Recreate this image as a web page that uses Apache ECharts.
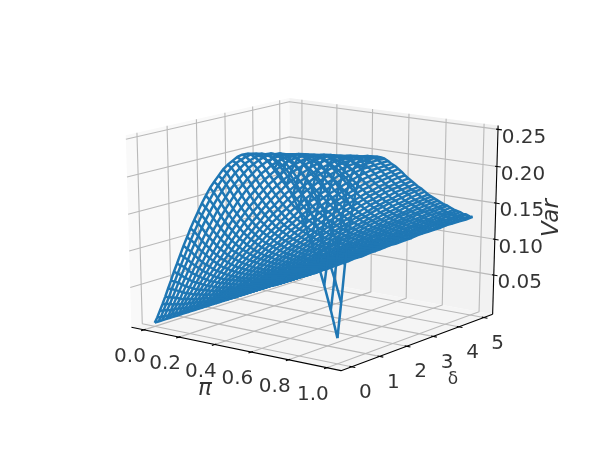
<!DOCTYPE html><html><head><meta charset="utf-8"><style>html,body{margin:0;background:#fff}#c{width:600px;height:459px}</style>
<script src="https://cdn.jsdelivr.net/npm/echarts@6/dist/echarts.min.js"></script></head><body><div id="c"></div><script>
const piValues=[0,.0153,.031,.0473,.064,.0813,.099,.1173,.136,.1553,.175,.1953,.216,.2373,.259,.2813,.304,.3273,.351,.3753,.4,.4253,.451,.4773,.504,.5313,.559,.5873,.616,.6453,.675,.7053,.736,.7673,.799,.8313,.864,.8973,.931,.9653,1];
const deltaValues=[0,.125,.25,.375,.5,.625,.75,.875,1,1.125,1.25,1.375,1.5,1.625,1.75,1.875,2,2.125,2.25,2.375,2.5,2.625,2.75,2.875,3,3.125,3.25,3.375,3.5,3.625,3.75,3.875,4,4.125,4.25,4.375,4.5,4.625,4.75,4.875,5];
const varGrid=[
[0,.008,.018,.028,.039,.051,.063,.076,.088,.101,.114,.126,.139,.151,.163,.175,.186,.197,.206,.215,.224,.231,.237,.243,.247,.249,.25,.249,.247,.243,.236,.228,.217,.204,.188,.169,.148,.123,.095,.064,.029],
[0,.007,.017,.027,.037,.049,.06,.072,.084,.096,.108,.121,.133,.145,.157,.168,.179,.19,.2,.209,.218,.226,.233,.238,.243,.247,.249,.25,.249,.247,.243,.237,.229,.218,.206,.191,.173,.153,.13,.104,.074],
[0,.007,.016,.025,.035,.046,.057,.068,.08,.091,.103,.115,.126,.138,.149,.16,.171,.181,.191,.201,.209,.218,.225,.232,.237,.242,.246,.248,.25,.25,.248,.245,.24,.233,.224,.213,.199,.183,.165,.145,.122],
[0,.006,.014,.023,.033,.043,.053,.063,.074,.085,.096,.107,.118,.129,.14,.151,.162,.172,.182,.192,.201,.209,.217,.225,.231,.237,.242,.246,.248,.25,.25,.249,.246,.242,.236,.229,.22,.208,.195,.179,.161],
[0,.006,.014,.022,.03,.04,.049,.059,.069,.08,.09,.101,.111,.122,.132,.143,.153,.163,.173,.183,.192,.2,.209,.216,.224,.23,.236,.24,.244,.247,.249,.25,.25,.248,.245,.24,.234,.226,.216,.205,.191],
[0,.006,.013,.02,.028,.037,.046,.055,.065,.075,.084,.095,.105,.115,.125,.135,.145,.155,.164,.174,.183,.192,.2,.208,.216,.222,.229,.234,.239,.243,.246,.249,.25,.25,.249,.247,.243,.238,.231,.223,.214],
[0,.005,.012,.019,.027,.035,.043,.052,.061,.07,.079,.089,.098,.108,.118,.127,.137,.147,.156,.165,.174,.183,.191,.199,.207,.214,.221,.227,.233,.238,.242,.245,.248,.249,.25,.25,.248,.245,.241,.236,.229],
[0,.005,.011,.018,.025,.032,.04,.049,.057,.066,.075,.084,.093,.102,.111,.12,.13,.139,.148,.157,.166,.174,.183,.191,.199,.206,.213,.22,.226,.231,.236,.241,.244,.247,.249,.25,.25,.249,.247,.244,.24],
[0,.005,.01,.017,.023,.031,.038,.046,.054,.062,.07,.079,.087,.096,.105,.114,.123,.132,.141,.149,.158,.166,.175,.183,.191,.198,.205,.212,.219,.225,.23,.235,.239,.243,.246,.248,.249,.25,.25,.248,.246],
[0,.004,.01,.016,.022,.029,.036,.043,.05,.058,.066,.074,.083,.091,.099,.108,.116,.125,.133,.142,.15,.159,.167,.175,.183,.19,.198,.205,.211,.217,.223,.229,.234,.238,.242,.245,.247,.249,.25,.25,.249],
[0,.004,.009,.015,.021,.027,.034,.041,.048,.055,.063,.07,.078,.086,.094,.102,.111,.119,.127,.135,.143,.152,.16,.167,.175,.183,.19,.197,.204,.21,.216,.222,.227,.232,.237,.24,.244,.246,.248,.25,.25],
[0,.004,.009,.014,.02,.026,.032,.038,.045,.052,.059,.067,.074,.082,.09,.097,.105,.113,.121,.129,.137,.145,.153,.16,.168,.176,.183,.19,.197,.203,.21,.216,.221,.226,.231,.236,.239,.243,.246,.248,.249],
[0,.004,.008,.013,.018,.024,.03,.036,.043,.049,.056,.063,.07,.078,.085,.093,.1,.108,.115,.123,.131,.139,.146,.154,.161,.169,.176,.183,.19,.196,.203,.209,.215,.22,.225,.23,.234,.238,.242,.245,.247],
[0,.003,.008,.012,.017,.023,.029,.034,.041,.047,.053,.06,.067,.074,.081,.088,.095,.103,.11,.118,.125,.132,.14,.147,.155,.162,.169,.176,.183,.189,.196,.202,.208,.214,.219,.224,.229,.233,.237,.241,.244],
[0,.003,.007,.012,.017,.022,.027,.033,.039,.045,.051,.057,.064,.071,.077,.084,.091,.098,.105,.113,.12,.127,.134,.141,.148,.156,.163,.17,.176,.183,.189,.196,.202,.208,.213,.219,.224,.228,.232,.236,.24],
[0,.003,.007,.011,.016,.021,.026,.031,.037,.043,.048,.055,.061,.067,.074,.08,.087,.094,.101,.108,.115,.122,.129,.136,.143,.15,.156,.163,.17,.177,.183,.189,.195,.201,.207,.213,.218,.223,.227,.231,.235],
[0,.003,.007,.011,.015,.02,.025,.03,.035,.041,.046,.052,.058,.064,.071,.077,.083,.09,.097,.103,.11,.117,.124,.13,.137,.144,.151,.157,.164,.171,.177,.183,.189,.195,.201,.207,.212,.217,.222,.226,.231],
[0,.003,.006,.01,.014,.019,.024,.028,.033,.039,.044,.05,.056,.061,.067,.074,.08,.086,.093,.099,.106,.112,.119,.125,.132,.139,.145,.152,.158,.165,.171,.177,.183,.189,.195,.201,.206,.211,.216,.221,.226],
[0,.003,.006,.01,.014,.018,.022,.027,.032,.037,.042,.048,.053,.059,.065,.071,.077,.083,.089,.095,.102,.108,.114,.121,.127,.134,.14,.147,.153,.159,.166,.172,.178,.184,.19,.195,.201,.206,.211,.216,.221],
[0,.003,.006,.009,.013,.017,.022,.026,.031,.036,.041,.046,.051,.056,.062,.068,.073,.079,.085,.091,.097,.104,.11,.116,.122,.129,.135,.141,.148,.154,.16,.166,.172,.178,.184,.189,.195,.2,.206,.211,.215],
[0,.002,.006,.009,.013,.017,.021,.025,.029,.034,.039,.044,.049,.054,.06,.065,.071,.076,.082,.088,.094,.1,.106,.112,.118,.124,.13,.137,.143,.149,.155,.161,.167,.173,.179,.184,.19,.195,.2,.205,.21],
[0,.002,.005,.009,.012,.016,.02,.024,.028,.033,.037,.042,.047,.052,.057,.063,.068,.074,.079,.085,.091,.096,.102,.108,.114,.12,.126,.132,.138,.144,.15,.156,.162,.168,.173,.179,.185,.19,.195,.2,.205],
[0,.002,.005,.008,.012,.015,.019,.023,.027,.031,.036,.041,.045,.05,.055,.06,.065,.071,.076,.082,.087,.093,.099,.104,.11,.116,.122,.128,.134,.139,.145,.151,.157,.163,.168,.174,.179,.185,.19,.195,.2],
[0,.002,.005,.008,.011,.015,.018,.022,.026,.03,.035,.039,.044,.048,.053,.058,.063,.068,.073,.079,.084,.09,.095,.101,.106,.112,.118,.123,.129,.135,.141,.146,.152,.158,.163,.169,.174,.18,.185,.19,.195],
[0,.002,.005,.008,.011,.014,.018,.021,.025,.029,.033,.038,.042,.047,.051,.056,.061,.066,.071,.076,.082,.087,.092,.098,.103,.109,.114,.12,.126,.131,.137,.142,.148,.154,.159,.165,.17,.175,.181,.186,.191],
[0,.002,.005,.007,.01,.014,.017,.021,.024,.028,.032,.036,.041,.045,.05,.054,.059,.064,.069,.074,.079,.084,.089,.094,.1,.105,.111,.116,.121,.127,.132,.138,.143,.149,.154,.16,.165,.17,.176,.181,.186],
[0,.002,.004,.007,.01,.013,.016,.02,.023,.027,.031,.035,.039,.043,.048,.052,.057,.062,.066,.071,.076,.081,.086,.091,.096,.102,.107,.112,.118,.123,.129,.134,.139,.145,.15,.155,.161,.166,.171,.176,.181],
[0,.002,.004,.007,.01,.013,.016,.019,.023,.026,.03,.034,.038,.042,.046,.051,.055,.06,.064,.069,.074,.079,.084,.089,.094,.099,.104,.109,.114,.12,.125,.13,.135,.141,.146,.151,.157,.162,.167,.172,.177],
[0,.002,.004,.007,.009,.012,.015,.019,.022,.025,.029,.033,.037,.041,.045,.049,.053,.058,.062,.067,.071,.076,.081,.086,.091,.096,.101,.106,.111,.116,.121,.126,.132,.137,.142,.147,.152,.158,.163,.168,.173],
[0,.002,.004,.006,.009,.012,.015,.018,.021,.025,.028,.032,.036,.039,.043,.047,.052,.056,.06,.065,.069,.074,.079,.083,.088,.093,.098,.103,.108,.113,.118,.123,.128,.133,.139,.144,.149,.154,.159,.164,.169],
[0,.002,.004,.006,.009,.011,.014,.017,.021,.024,.027,.031,.034,.038,.042,.046,.05,.054,.058,.063,.067,.072,.076,.081,.086,.09,.095,.1,.105,.11,.115,.12,.125,.13,.135,.14,.145,.15,.155,.16,.165],
[0,.002,.004,.006,.008,.011,.014,.017,.02,.023,.026,.03,.033,.037,.041,.045,.049,.053,.057,.061,.065,.07,.074,.079,.083,.088,.093,.097,.102,.107,.112,.117,.122,.127,.132,.137,.142,.147,.151,.156,.161],
[0,.002,.004,.006,.008,.011,.014,.016,.019,.022,.026,.029,.033,.036,.04,.044,.047,.051,.055,.059,.064,.068,.072,.077,.081,.086,.09,.095,.1,.104,.109,.114,.119,.124,.129,.133,.138,.143,.148,.153,.158],
[0,.002,.003,.006,.008,.01,.013,.016,.019,.022,.025,.028,.032,.035,.039,.042,.046,.05,.054,.058,.062,.066,.07,.075,.079,.083,.088,.092,.097,.102,.106,.111,.116,.121,.125,.13,.135,.14,.144,.149,.154],
[0,.002,.003,.005,.008,.01,.013,.015,.018,.021,.024,.027,.031,.034,.037,.041,.045,.048,.052,.056,.06,.064,.068,.072,.077,.081,.085,.09,.094,.099,.103,.108,.113,.117,.122,.127,.131,.136,.141,.145,.15],
[0,.001,.003,.005,.008,.01,.012,.015,.018,.021,.024,.027,.03,.033,.036,.04,.043,.047,.051,.055,.058,.063,.067,.071,.075,.079,.083,.088,.092,.096,.101,.105,.11,.115,.119,.124,.128,.133,.138,.142,.147],
[0,.001,.003,.005,.007,.01,.012,.015,.017,.02,.023,.026,.029,.032,.035,.039,.042,.046,.049,.053,.057,.061,.065,.069,.073,.077,.081,.085,.09,.094,.098,.103,.107,.112,.116,.121,.125,.13,.135,.139,.144],
[0,.001,.003,.005,.007,.009,.012,.014,.017,.019,.022,.025,.028,.031,.035,.038,.041,.045,.048,.052,.055,.059,.063,.067,.071,.075,.079,.083,.087,.092,.096,.1,.105,.109,.114,.118,.123,.127,.131,.136,.14],
[0,.001,.003,.005,.007,.009,.011,.014,.016,.019,.022,.025,.028,.03,.034,.037,.04,.044,.047,.051,.054,.058,.062,.066,.069,.073,.077,.081,.086,.09,.094,.098,.102,.107,.111,.116,.12,.124,.129,.133,.138],
[0,.001,.003,.005,.007,.009,.011,.013,.016,.018,.021,.024,.027,.03,.033,.036,.039,.042,.046,.049,.053,.056,.06,.064,.067,.071,.075,.079,.083,.087,.091,.096,.1,.104,.108,.113,.117,.121,.126,.13,.134],
[0,.001,.003,.005,.007,.009,.011,.013,.015,.018,.021,.023,.026,.029,.032,.035,.038,.041,.045,.048,.051,.055,.059,.062,.066,.07,.074,.077,.081,.085,.089,.094,.098,.102,.106,.11,.115,.119,.123,.127,.132]
];
const piTicks=[0,0.2,0.4,0.6,0.8,1],deltaTicks=[0,1,2,3,4,5],varTicks=[0.05,0.1,0.15,0.2,0.25];
const lim={x:[-0.05,1.05],y:[-0.25,5.25],z:[0,0.25]};
const elev=17*Math.PI/180,azim=-53*Math.PI/180,dist=10;
const E=[.5+dist*Math.cos(elev)*Math.cos(azim),.5+dist*Math.cos(elev)*Math.sin(azim),.5+dist*Math.sin(elev)];
const n=norm(sub(E,[.5,.5,.5])),u=norm(cross([0,0,1],n)),v=cross(n,u);
function sub(a,b){return[a[0]-b[0],a[1]-b[1],a[2]-b[2]]}
function dot(a,b){return a[0]*b[0]+a[1]*b[1]+a[2]*b[2]}
function cross(a,b){return[a[1]*b[2]-a[2]*b[1],a[2]*b[0]-a[0]*b[2],a[0]*b[1]-a[1]*b[0]]}
function norm(a){const l=Math.sqrt(dot(a,a));return a.map(x=>x/l)}
function project(x,y,z){const P=[(x-lim.x[0])/(lim.x[1]-lim.x[0]),(y-lim.y[0])/(lim.y[1]-lim.y[0]),(z-lim.z[0])/(lim.z[1]-lim.z[0])];
 const d=sub(P,E),w=-dot(n,d),sx=dot(u,d)/w,sy=dot(v,d)/w;
 return[75+(sx+.095)/.185*465,408.4-(sy+.095)/.185*353.4]}
const ext=a=>[a[0]-(a[1]-a[0])/48,a[1]+(a[1]-a[0])/48];
const bx=ext(lim.x),by=ext(lim.y),bz=ext(lim.z);
const series=[];
const pane=(pts,color)=>series.push({type:'custom',coordinateSystem:'cartesian2d',silent:true,clip:false,z:1,data:[pts.flat()],renderItem:(p,api)=>{const a=[];for(let i=0;i<4;i++)a.push(api.coord([api.value(i*2),api.value(i*2+1)]));return{type:'polygon',shape:{points:a},style:{fill:color}}},encode:{x:[0,2,4,6],y:[1,3,5,7]}});
pane([project(bx[0],by[0],bz[0]),project(bx[0],by[1],bz[0]),project(bx[0],by[1],bz[1]),project(bx[0],by[0],bz[1])],'#f9f9f9');
pane([project(bx[0],by[1],bz[0]),project(bx[1],by[1],bz[0]),project(bx[1],by[1],bz[1]),project(bx[0],by[1],bz[1])],'#f2f2f2');
pane([project(bx[0],by[0],bz[0]),project(bx[1],by[0],bz[0]),project(bx[1],by[1],bz[0]),project(bx[0],by[1],bz[0])],'#f5f5f5');
const line=(pts,color,width,z)=>series.push({type:'line',data:pts,showSymbol:false,symbol:'none',silent:true,clip:false,z:z,animation:false,lineStyle:{color,width}});
const grid='#b9b9b9';
piTicks.forEach(t=>line([project(t,by[0],bz[0]),project(t,by[1],bz[0]),project(t,by[1],bz[1])],grid,1.1,2));
deltaTicks.forEach(t=>line([project(bx[1],t,bz[0]),project(bx[0],t,bz[0]),project(bx[0],t,bz[1])],grid,1.1,2));
varTicks.forEach(t=>line([project(bx[1],by[1],t),project(bx[0],by[1],t),project(bx[0],by[0],t)],grid,1.1,2));
line([project(bx[0],by[0],bz[0]),project(bx[1],by[0],bz[0]),project(bx[1],by[1],bz[0])],'#000',1.1,3);
line([project(bx[1],by[1],bz[0]),project(bx[1],by[1],bz[1])],'#000',1.1,3);
piTicks.forEach(t=>line([project(t,by[0]+.05,bz[0]),project(t,by[0]-.1,bz[0])],'#000',1.1,3));
deltaTicks.forEach(t=>line([project(bx[1]-.01,t,bz[0]),project(bx[1]+.02,t,bz[0])],'#000',1.1,3));
varTicks.forEach(t=>line([project(bx[1]-.01,by[1],t),project(bx[1]+.02,by[1],t)],'#000',1.1,3));
varGrid.forEach((r,i)=>line(r.map((z,j)=>project(piValues[j],deltaValues[i],z)),'#1f77b4',2.5,5));
piValues.forEach((q,j)=>line(varGrid.map((r,i)=>project(q,deltaValues[i],r[j])),'#1f77b4',2.5,5));
const font='"DejaVu Sans"';
const lab=(pos,text,off,size,extra)=>series.push({type:'scatter',data:[pos],symbolSize:0,silent:true,z:6,label:{show:true,position:'inside',formatter:text,offset:off,fontFamily:font,fontSize:size,color:'#000',textBorderWidth:0,...extra}});
piTicks.forEach(t=>lab(project(t,by[0],bz[0]),t.toFixed(1),[-14,27],20));
deltaTicks.forEach(t=>lab(project(bx[1],t,bz[0]),String(t),[14,26],20));
varTicks.forEach(t=>lab(project(bx[1],by[1],t),t.toFixed(2),[26,8],20));
lab([205,389],'π',[0,0],23,{fontStyle:'italic'});
lab([453,380],'δ',[0,0],17);
lab([552,218],'Var',[0,0],23,{fontStyle:'italic',rotate:90});
const chart=echarts.init(document.getElementById('c'),null,{renderer:'canvas'});
chart.setOption({animation:false,backgroundColor:'#fff',grid:{left:0,right:0,top:0,bottom:0},xAxis:{type:'value',min:0,max:600,show:false},yAxis:{type:'value',min:0,max:459,inverse:true,show:false},series});
</script></body></html>
